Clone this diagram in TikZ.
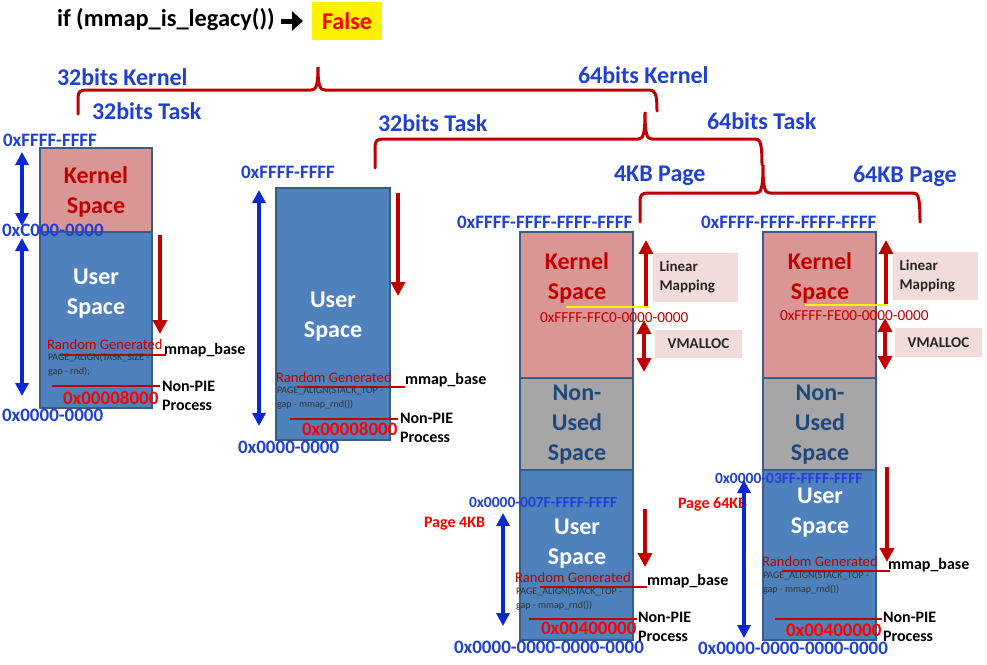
\documentclass[tikz,border=0pt]{standalone}
\usepackage{fontspec}
\setmainfont{Carlito}
\usetikzlibrary{arrows.meta}
\newcommand\fsz[2]{\fontsize{#1}{#2}\selectfont}
\definecolor{tblue}{RGB}{32,64,210}
\definecolor{dred}{RGB}{192,0,0}
\definecolor{boxblue}{RGB}{79,129,189}
\definecolor{boxedge}{RGB}{56,93,138}
\definecolor{kpink}{RGB}{217,150,148}
\definecolor{ngray}{RGB}{166,166,166}
\definecolor{ntext}{RGB}{31,73,125}
\definecolor{lpink}{RGB}{242,220,219}
\definecolor{arrblue}{RGB}{10,40,210}
\tikzset{
  every node/.style={inner sep=0pt, outer sep=0pt},
  lbl/.style={anchor=west, font=\bfseries\fsz{24}{28}, text=tblue},
  addr/.style={anchor=west, font=\bfseries\fsz{19}{22}, text=tblue},
  addrs/.style={anchor=west, font=\bfseries\fsz{15.5}{18}, text=tblue},
  brace/.style={draw=dred, line width=3pt, line cap=round},
  membox/.style={draw=boxedge, line width=2pt},
  kbox/.style={membox, fill=kpink},
  ubox/.style={membox, fill=boxblue},
  nbox/.style={membox, fill=ngray},
  ktext/.style={text=dred, font=\bfseries\fsz{24}{30}, align=center},
  utext/.style={text=white, font=\bfseries\fsz{24}{30}, align=center},
  ntxt/.style={text=ntext, font=\bfseries\fsz{24}{30}, align=center},
  randg/.style={anchor=west, text=dred, font=\fsz{14.6}{16}},
  pagea/.style={anchor=west, text=black!80, font=\fsz{10}{14}, align=left},
  blk/.style={anchor=west, text=black, font=\bfseries\fsz{16}{18.5}, align=left},
  redaddr/.style={anchor=west, text=red, font=\bfseries\fsz{19}{22}},
  redline/.style={draw=dred, line width=2.5pt},
  yline/.style={draw=yellow, line width=2.5pt},
  barrow/.style={draw=arrblue, line width=4pt, {Triangle[length=13pt,width=13pt]}-{Triangle[length=13pt,width=13pt]}},
  rarrow/.style={draw=dred, line width=4.5pt, -{Triangle[length=14pt,width=14pt]}},
  rdarrow/.style={draw=dred, line width=4.5pt, {Triangle[length=14pt,width=14pt]}-{Triangle[length=14pt,width=14pt]}},
  pinkbox/.style={fill=lpink, text=black!85, font=\bfseries\fsz{15}{19}, align=left},
  kaddr/.style={anchor=west, text=dred, font=\fsz{15.3}{16}},
  pagelbl/.style={anchor=west, text=red, font=\bfseries\fsz{16}{18}},
  condarrow/.style={draw=black, line width=5pt, -{Triangle[length=11pt,width=19pt]}},
}
\begin{document}
\begin{tikzpicture}[x=1pt,y=-1pt]
\useasboundingbox (0,0) rectangle (987,664);
\fill[white] (0,0) rectangle (987,664);

% title
\node[anchor=west, font=\bfseries\fsz{24.4}{28}] (cond) at (57,20) {if (mmap\_is\_legacy())};
\node[fill=yellow, minimum width=70pt, minimum height=38pt] (fbox) at (347,21) {};
\node[text=red, font=\bfseries\fsz{24}{28}] (false) at (fbox.center) {False};
\draw[condarrow] ([xshift=6pt,yshift=-1pt]cond.east) -- ([xshift=-9pt]fbox.west);

% level labels
\node[lbl] (k32) at (57,77) {32bits Kernel};
\node[lbl] (k64) at (578,75) {64bits Kernel};
\node[lbl] (t32a) at (92,111) {32bits Task};
\node[lbl] (t32b) at (378,123) {32bits Task};
\node[lbl] (t64) at (707,121) {64bits Task};
\node[lbl] (p4) at (614,176) {4KB Page};
\node[lbl] (p64) at (853,176) {64KB Page};

% braces
\draw[brace] (78,114) -- (78,98) .. controls (78,92) and (80,90) .. (86,90) -- (311,90)
  .. controls (316,90) and (318,86) .. (318,67)
  .. controls (318,86) and (320,90) .. (325,90) -- (649,90)
  .. controls (655,90) and (657,93) .. (657,111);
\draw[brace] (375,168) -- (375,147) .. controls (375,141) and (377,139) .. (383,139) -- (638,139)
  .. controls (643,139) and (645,135) .. (645,112)
  .. controls (645,135) and (647,139) .. (652,139) -- (755,139)
  .. controls (760,139) and (762,142) .. (762,165);
\draw[brace] (640,222) -- (640,201) .. controls (640,195) and (642,193) .. (648,193) -- (756,193)
  .. controls (761,193) and (763,189) .. (763,165)
  .. controls (763,189) and (765,193) .. (770,193) -- (913,193)
  .. controls (918,193) and (920,196) .. (920,222);

% ===== column 1: 32bit kernel, 32bit task
\node[kbox, minimum width=112pt, minimum height=84pt] (k1) at (96,190) {};
\node[ubox, minimum width=112pt, minimum height=176pt] (u1) at (96,320) {};
\node[ktext] (k1t) at (96,192) {Kernel\\Space};
\node[utext] (u1t) at (96,294) {User\\Space};
\node[addr] (a1top) at (3,140) {0xFFFF-FFFF};
\node[addr] (a1mid) at (2,230) {0xC000-0000};
\node[addr] (a1bot) at (2,415) {0x0000-0000};
\coordinate (b1a) at (22,152); \coordinate (b1b) at (22,226);
\coordinate (b1c) at (22,238); \coordinate (b1d) at (22,396);
\draw[barrow] (b1a) -- (b1b);
\draw[barrow] (b1c) -- (b1d);
\coordinate (r1a) at (160,235); \coordinate (r1b) at (160,334);
\draw[rarrow] (r1a) -- (r1b);
\node[randg] (rg1) at (47,344) {Random Generated};
\coordinate (l1a) at (60,355); \coordinate (l1b) at (166,355);
\draw[redline] (l1a) -- (l1b);
\node[blk] (mb1) at (164,350) {mmap\_base};
\node[pagea] (pa1) at (48,365) {PAGE\_ALIGN(TASK\_SIZE -\\gap - rnd);};
\coordinate (n1a) at (52,386); \coordinate (n1b) at (160,386);
\draw[redline] (n1a) -- (n1b);
\node[blk] (np1) at (162,396) {Non-PIE\\Process};
\node[redaddr] (o1) at (63,398) {0x00008000};

% ===== column 2: 64bit kernel, 32bit task
\node[ubox, minimum width=114pt, minimum height=252pt] (u2) at (333,314) {};
\node[utext] (u2t) at (333,317) {User\\Space};
\node[addr] (a2top) at (241,172) {0xFFFF-FFFF};
\node[addr] (a2bot) at (238,447) {0x0000-0000};
\coordinate (b2a) at (259,190); \coordinate (b2b) at (259,426);
\draw[barrow] (b2a) -- (b2b);
\coordinate (r2a) at (398,193); \coordinate (r2b) at (398,296);
\draw[rarrow] (r2a) -- (r2b);
\node[randg] (rg2) at (276,377) {Random Generated};
\coordinate (l2a) at (297,387); \coordinate (l2b) at (405,387);
\draw[redline] (l2a) -- (l2b);
\node[blk] (mb2) at (405,380) {mmap\_base};
\node[pagea] (pa2) at (277,398) {PAGE\_ALIGN(STACK\_TOP -\\gap - mmap\_rnd())};
\coordinate (n2a) at (290,419); \coordinate (n2b) at (398,419);
\draw[redline] (n2a) -- (n2b);
\node[blk] (np2) at (400,428) {Non-PIE\\Process};
\node[redaddr] (o2) at (302,429) {0x00008000};

% ===== column 3: 64bit task, 4KB page
\node[kbox, minimum width=113pt, minimum height=146pt] (k3) at (576.5,305) {};
\node[nbox, minimum width=113pt, minimum height=92pt] (n3) at (576.5,424) {};
\node[ubox, minimum width=113pt, minimum height=170pt] (u3) at (576.5,555) {};
\node[ktext] (k3t) at (577,278) {Kernel\\Space};
\node[ntxt] (n3t) at (577,425) {Non-\\Used\\Space};
\node[utext] (u3t) at (577,544) {User\\Space};
\node[addr] (a3top) at (457,222) {0xFFFF-FFFF-FFFF-FFFF};
\coordinate (y3a) at (566,307); \coordinate (y3b) at (649,307);
\draw[yline] (y3a) -- (y3b);
\node[kaddr] (ka3) at (540,318) {0xFFFF-FFC0-0000-0000};
\coordinate (r3a) at (646,306); \coordinate (r3b) at (646,240);
\draw[rarrow] (r3a) -- (r3b);
\node[pinkbox, minimum width=85pt, minimum height=49pt, text width=72pt] (lm3) at (695.5,277.5) {Linear\\Mapping};
\coordinate (v3a) at (644,320); \coordinate (v3b) at (644,372);
\draw[rdarrow] (v3a) -- (v3b);
\node[pinkbox, minimum width=87pt, minimum height=28pt] (vm3) at (698.5,344) {VMALLOC};
\node[addrs] (ua3) at (469,502) {0x0000-007F-FFFF-FFFF};
\node[pagelbl] (pg3) at (424,524) {Page 4KB};
\coordinate (b3a) at (503,513); \coordinate (b3b) at (503,626);
\draw[barrow] (b3a) -- (b3b);
\coordinate (r3c) at (645,509); \coordinate (r3d) at (645,567);
\draw[rarrow] (r3c) -- (r3d);
\node[randg] (rg3) at (515,577) {Random Generated};
\coordinate (l3a) at (540,587); \coordinate (l3b) at (647,587);
\draw[redline] (l3a) -- (l3b);
\node[blk] (mb3) at (647,581) {mmap\_base};
\node[pagea] (pa3) at (516,599) {PAGE\_ALIGN(STACK\_TOP -\\gap - mmap\_rnd())};
\coordinate (n3a) at (529,619); \coordinate (n3b) at (637,619);
\draw[redline] (n3a) -- (n3b);
\node[blk] (np3) at (638,627) {Non-PIE\\Process};
\node[redaddr] (o3) at (541,628) {0x00400000};
\node[addr] (a3bot) at (454,647) {0x0000-0000-0000-0000};

% ===== column 4: 64bit task, 64KB page
\node[kbox, minimum width=113pt, minimum height=146pt] (k4) at (819.5,305) {};
\node[nbox, minimum width=113pt, minimum height=92pt] (n4) at (819.5,424) {};
\node[ubox, minimum width=113pt, minimum height=170pt] (u4) at (819.5,555) {};
\node[ktext] (k4t) at (820,278) {Kernel\\Space};
\node[ntxt] (n4t) at (820,425) {Non-\\Used\\Space};
\node[utext] (u4t) at (820,513) {User\\Space};
\node[addr] (a4top) at (701,222) {0xFFFF-FFFF-FFFF-FFFF};
\coordinate (y4a) at (805,305); \coordinate (y4b) at (888,305);
\draw[yline] (y4a) -- (y4b);
\node[kaddr] (ka4) at (780,316) {0xFFFF-FE00-0000-0000};
\coordinate (r4a) at (886,304); \coordinate (r4b) at (886,240);
\draw[rarrow] (r4a) -- (r4b);
\node[pinkbox, minimum width=85pt, minimum height=48pt, text width=72pt] (lm4) at (935.5,276) {Linear\\Mapping};
\coordinate (v4a) at (885,318); \coordinate (v4b) at (885,370);
\draw[rdarrow] (v4a) -- (v4b);
\node[pinkbox, minimum width=87pt, minimum height=29pt] (vm4) at (938.5,342.5) {VMALLOC};
\node[addrs] (ua4) at (715,478) {0x0000-03FF-FFFF-FFFF};
\node[pagelbl] (pg4) at (678,504) {Page 64KB};
\coordinate (b4a) at (744,480); \coordinate (b4b) at (744,638);
\draw[barrow] (b4a) -- (b4b);
\coordinate (r4c) at (887,467); \coordinate (r4d) at (887,562);
\draw[rarrow] (r4c) -- (r4d);
\node[randg] (rg4) at (762,561) {Random Generated};
\coordinate (l4a) at (782,571); \coordinate (l4b) at (890,571);
\draw[redline] (l4a) -- (l4b);
\node[blk] (mb4) at (888,565) {mmap\_base};
\node[pagea] (pa4) at (763,583) {PAGE\_ALIGN(STACK\_TOP -\\gap - mmap\_rnd())};
\coordinate (n4a) at (775,619); \coordinate (n4b) at (882,619);
\draw[redline] (n4a) -- (n4b);
\node[blk] (np4) at (883,627) {Non-PIE\\Process};
\node[redaddr] (o4) at (786,630) {0x00400000};
\node[addr] (a4bot) at (698,648) {0x0000-0000-0000-0000};
\end{tikzpicture}
\end{document}
